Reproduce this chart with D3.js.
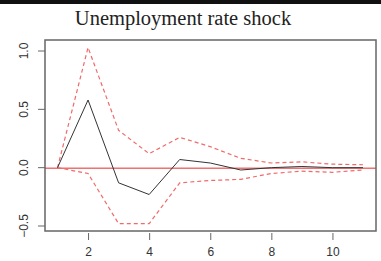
<!DOCTYPE html>
<html>
<head>
<meta charset="utf-8">
<script src="https://cdn.jsdelivr.net/npm/d3@7"></script>
<style>
  body { margin: 0; background: #fff; }
</style>
</head>
<body>
<script>
// 데이터
var steps = [1, 2, 3, 4, 5, 6, 7, 8, 9, 10, 11];
var response = [0, 0.58, -0.13, -0.23, 0.07, 0.04, -0.02, 0.0, 0.01, 0.0, 0.0];
var upper = [0, 1.03, 0.32, 0.12, 0.26, 0.18, 0.08, 0.04, 0.05, 0.03, 0.025];
var lower = [0, -0.05, -0.48, -0.48, -0.13, -0.11, -0.10, -0.05, -0.03, -0.04, -0.02];
var xTicks = [2, 4, 6, 8, 10];
var yTicks = [-0.5, 0.0, 0.5, 1.0];

var w = 381, h = 261;
var box = { left: 45, right: 376, top: 40, bottom: 231 };

var svg = d3.select("body").append("svg")
  .attr("width", w).attr("height", h);

// 상단 검은 띠
svg.append("rect").attr("x", 0).attr("y", 0).attr("width", w).attr("height", 4).attr("fill", "#111");

var x = d3.scaleLinear().domain([1, 11]).range([57.5, 363]);
var y = d3.scaleLinear().domain([-0.5, 1.0]).range([226, 51]);

// 제목
svg.append("text")
  .attr("x", 183).attr("y", 25)
  .attr("text-anchor", "middle")
  .attr("font-family", "Liberation Serif, serif")
  .attr("font-size", "20.5px")
  .attr("fill", "#222")
  .text("Unemployment rate shock");

// 축 (R 스타일: 눈금이 상자 밖에서 약간 떨어져 시작)
var xAxis = svg.append("g")
  .attr("transform", "translate(0," + (box.bottom + 2) + ")")
  .call(d3.axisBottom(x).tickValues(xTicks).tickFormat(d3.format("d")).tickSize(7).tickPadding(7));
xAxis.select(".domain").remove();

var yAxis = svg.append("g")
  .attr("transform", "translate(" + box.left + ",0)")
  .call(d3.axisLeft(y).tickValues(yTicks).tickFormat(d3.format(".1f")).tickSize(7));
yAxis.select(".domain").remove();
yAxis.selectAll(".tick").attr("transform", null);
yAxis.selectAll(".tick line")
  .attr("y1", function (d) { return y(d); })
  .attr("y2", function (d) { return y(d); });
yAxis.selectAll("text")
  .attr("transform", function (d) { return "rotate(-90," + (-21) + "," + y(d) + ")"; })
  .attr("x", -21).attr("y", function (d) { return y(d); })
  .attr("dy", "0.35em")
  .attr("text-anchor", "middle");

svg.selectAll(".tick line").attr("stroke", "#666");
svg.selectAll(".tick text")
  .attr("font-family", "Liberation Sans, Arial, sans-serif")
  .attr("font-size", "12px")
  .attr("fill", "#333");

// 0 기준선
svg.append("line")
  .attr("x1", box.left).attr("x2", box.right)
  .attr("y1", y(0) + 0.5).attr("y2", y(0) + 0.5)
  .attr("stroke", "#e52a2a").attr("stroke-width", 1);

var line = d3.line()
  .x(function (d, i) { return x(steps[i]); })
  .y(function (d) { return y(d); });

[upper, lower].forEach(function (s) {
  svg.append("path").datum(s)
    .attr("d", line)
    .attr("fill", "none")
    .attr("stroke", "#f06a6a")
    .attr("stroke-width", 1.2)
    .attr("stroke-dasharray", "4,3");
});

svg.append("path").datum(response)
  .attr("d", line)
  .attr("fill", "none")
  .attr("stroke", "#333")
  .attr("stroke-width", 1);

// 테두리
svg.append("rect")
  .attr("x", box.left).attr("y", box.top)
  .attr("width", box.right - box.left).attr("height", box.bottom - box.top)
  .attr("fill", "none").attr("stroke", "#666").attr("stroke-width", 1.5);
</script>
</body>
</html>
